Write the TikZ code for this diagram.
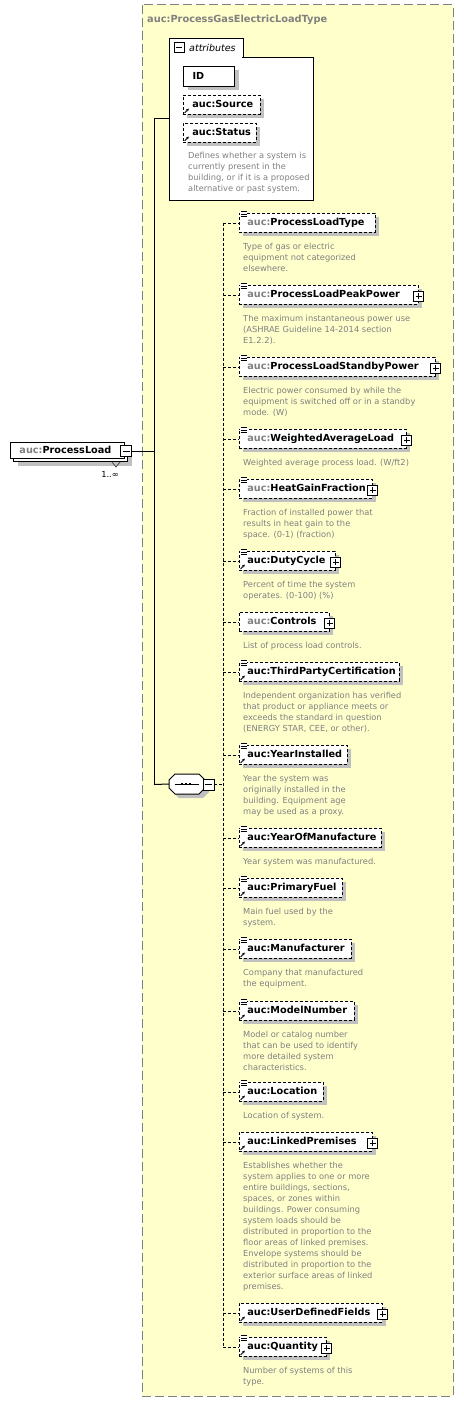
\documentclass[tikz,border=0pt]{standalone}
\usepackage{fontspec}
\setmainfont{DejaVu Sans}
\usetikzlibrary{calc,shadows,arrows.meta}
\definecolor{bgy}{RGB}{255,255,204}
\definecolor{shd}{RGB}{192,192,192}
\definecolor{txg}{RGB}{128,128,128}
\definecolor{brd}{RGB}{128,128,128}
\tikzset{
  shadowed/.style={drop shadow={shadow xshift=4pt,shadow yshift=-4pt,fill=shd,opacity=1}},
  ebox/.style={draw, dash pattern=on 3pt off 2pt, line width=0.8pt, fill=white, anchor=north west,
    minimum height=19pt, inner xsep=8pt, inner ysep=0pt, align=left,
    font=\fontsize{9.7}{12}\selectfont\bfseries, text height=7.3pt, text depth=2pt, shadowed},
  desc/.style={anchor=north west, inner sep=0pt, align=left, text=txg, font=\fontsize{8.3}{11}\selectfont},
  pmbox/.style={draw, fill=white, line width=0.9pt, minimum size=10pt, inner sep=0pt},
  conn/.style={dash pattern=on 3pt off 2pt, line width=0.8pt},
  solidline/.style={line width=1pt},
}
\newcommand\elem[5]{% id, top, textwidth, prefixcolor, name
  \node[ebox, text width=#3pt] (#1) at (239,#2) {\textcolor{#4}{auc:}#5};}
\newcommand\plusbox[1]{%
  \node[pmbox] (#1p) at ([yshift=-1.5pt]#1.east) {};
  \draw[line width=0.9pt] ([xshift=-3pt]#1p.center) -- ([xshift=3pt]#1p.center)
        ([yshift=-3pt]#1p.center) -- ([yshift=3pt]#1p.center);}
\newcommand\docicon[1]{%
  \fill[white] ($(#1.north west)+(1,-2.5)$) rectangle ($(#1.north west)+(8,4)$);
  \foreach \dy in {-1.2,1.1,3.4} {\draw[line width=0.8pt] ($(#1.north west)+(1.5,\dy)$) -- ++(6,0);}}
\newcommand\reficon[1]{%
  \draw[line width=0.9pt, -{Stealth[length=2.8pt,width=2.8pt]}] ($(#1.south west)+(1.6,-1.8)$) -- ++(4.2,-4.4);}
\newcommand\dstrut{\rule{0pt}{8pt}}
\newcommand\descr[2]{%
  \node[desc] (#1d) at ($(#1.south west)+(4,8)$) {\dstrut#2};}
\begin{document}
\begin{tikzpicture}[x=1pt,y=-1pt]
\useasboundingbox (0,0) rectangle (463,1402);
% outer type box
\draw[brd, dash pattern=on 9pt off 4pt, line width=1pt, fill=bgy] (142,5) rectangle (453,1396);
\node[anchor=base west, inner sep=0pt, font=\fontsize{9.8}{12}\selectfont\bfseries, text=txg] (title) at (147,23) {auc:ProcessGasElectricLoadType};
% attributes box
\node[draw, solidline, fill=white, anchor=north west, minimum width=144pt, minimum height=143pt] (attr) at (169,57) {};
\node[draw, solidline, fill=white, anchor=north west, minimum width=74pt, minimum height=19pt] (tab) at (169,38) {};
\draw[white, line width=1.4pt] (170,57) -- (242.4,57);
\node[pmbox] (tabm) at (179,47) {};
\draw[line width=0.9pt] ([xshift=-3pt]tabm.center) -- ([xshift=3pt]tabm.center);
\node[anchor=base west, inner sep=0pt, font=\fontsize{9.5}{11}\selectfont\itshape] (attrt) at (189,51.5) {attributes};
\node[draw, solidline, fill=white, anchor=north west, minimum height=20pt, inner xsep=9pt, inner ysep=0pt,
  text width=33pt, align=left, font=\fontsize{9.7}{12}\selectfont\bfseries, text height=7.3pt, text depth=2pt, shadowed] (id) at (183,66) {ID};
\node[ebox, inner xsep=9pt, text width=59pt] (src) at (183,95) {auc:Source};
\reficon{src}
\node[ebox, inner xsep=9pt, text width=55pt] (sts) at (183,123) {auc:Status};
\reficon{sts}
\node[desc] (stsd) at (188,150) {\dstrut Defines whether a system is\\currently present in the\\building, or if it is a proposed\\alternative or past system.};
% ProcessLoad element
\node[draw, solidline, fill=white, anchor=north west, minimum width=114pt, minimum height=16pt, shadowed] (plb) at (13,445) {};
\node[draw, solidline, fill=white, anchor=north west, minimum height=16pt, inner xsep=9pt, inner ysep=0pt,
  text width=96pt, align=left, font=\fontsize{9.7}{12}\selectfont\bfseries, text height=7.3pt, text depth=2pt] (pl) at (10,442) {\textcolor{txg}{auc:}ProcessLoad};
\draw[line width=0.8pt, black!70] (112,462) -- (116,467) -- (120,462);
\node[pmbox, minimum size=11pt] (plm) at (126,451) {};
\draw[line width=0.9pt] ([xshift=-3.5pt]plm.center) -- ([xshift=3.5pt]plm.center);
\node[inner sep=0pt, font=\fontsize{8.3}{10}\selectfont] (occ) at (110,474) {1..∞};
% main solid lines
\coordinate (mt) at (154,119);
\coordinate (mb) at (154,784.5);
\draw[solidline] (mt) -- (mb);
\draw[solidline] (mt) -- (mt -| attr.west);
\draw[solidline] (plm.east) -- (plm.east -| mt);
% sequence compositor
\node[minimum width=36pt, minimum height=20pt, inner sep=0pt] (seq) at (187,784) {};
\fill[shd] (173,778) -- (179,778) -- (203,778) -- (209,784) -- (209,792) -- (203,798) -- (179,798) -- (173,792) -- cycle;
\draw[solidline, fill=white] (169,780) -- (175,774) -- (199,774) -- (205,780) -- (205,788) -- (199,794) -- (175,794) -- (169,788) -- cycle;
\draw[line width=1pt] (175,784) -- (199,784);
\foreach \xx in {182,186,190} {\fill (\xx-1.2,782.8) rectangle (\xx+1.2,785.2);}
\draw[solidline] (mb) -- (seq.west);
\node[pmbox, minimum size=11pt] (sqm) at (208.5,784.5) {};
\draw[line width=0.9pt] ([xshift=-3.5pt]sqm.center) -- ([xshift=3.5pt]sqm.center);
\coordinate (vt) at (223,222.5);
\coordinate (vb) at (223,1346.5);
\draw[conn] (sqm.east) -- (sqm.east -| vt);
\draw[conn] (vt) -- (vb);
% child elements
\elem{e1}{213}{120}{txg}{ProcessLoadType}
\elem{e2}{285}{163}{txg}{ProcessLoadPeakPower}
\elem{e3}{357}{180}{txg}{ProcessLoadStandbyPower}
\elem{e4}{429}{151}{txg}{WeightedAverageLoad}
\elem{e5}{479}{117}{txg}{HeatGainFraction}
\elem{e6}{551}{80}{black}{DutyCycle}
\elem{e7}{612}{74}{txg}{Controls}
\elem{e8}{662}{144}{black}{ThirdPartyCertification}
\elem{e9}{745}{92}{black}{YearInstalled}
\elem{e10}{828}{126}{black}{YearOfManufacture}
\elem{e11}{878}{87}{black}{PrimaryFuel}
\elem{e12}{939}{96}{black}{Manufacturer}
\elem{e13}{1001}{99}{black}{ModelNumber}
\elem{e14}{1082}{68}{black}{Location}
\elem{e15}{1132}{117}{black}{LinkedPremises}
\elem{e16}{1303}{127}{black}{UserDefinedFields}
\elem{e17}{1337}{71}{black}{Quantity}
\foreach \e in {e1,e2,e3,e4,e5,e6,e7,e8,e9,e10,e11,e12,e13,e14,e15,e16,e17}
  {\draw[conn] (vt |- \e.west) -- (\e.west);}
\foreach \e in {e2,e3,e4,e5,e6,e7,e15,e16,e17} {\plusbox{\e}}
\foreach \e in {e1,e2,e3,e4,e5,e6,e8,e9,e10,e11,e12,e13,e14,e17} {\docicon{\e}}
\foreach \e in {e6,e8,e9,e10,e11,e12,e13,e14,e15,e16,e17} {\reficon{\e}}
\descr{e1}{Type of gas or electric\\equipment not categorized\\elsewhere.}
\descr{e2}{The maximum instantaneous power use\\(ASHRAE Guideline 14-2014 section\\E1.2.2).}
\descr{e3}{Electric power consumed by while the\\equipment is switched off or in a standby\\mode. (W)}
\descr{e4}{Weighted average process load. (W/ft2)}
\descr{e5}{Fraction of installed power that\\results in heat gain to the\\space. (0-1) (fraction)}
\descr{e6}{Percent of time the system\\operates. (0-100) (\%)}
\descr{e7}{List of process load controls.}
\descr{e8}{Independent organization has verified\\that product or appliance meets or\\exceeds the standard in question\\(ENERGY STAR, CEE, or other).}
\descr{e9}{Year the system was\\originally installed in the\\building. Equipment age\\may be used as a proxy.}
\descr{e10}{Year system was manufactured.}
\descr{e11}{Main fuel used by the\\system.}
\descr{e12}{Company that manufactured\\the equipment.}
\descr{e13}{Model or catalog number\\that can be used to identify\\more detailed system\\characteristics.}
\descr{e14}{Location of system.}
\descr{e15}{Establishes whether the\\system applies to one or more\\entire buildings, sections,\\spaces, or zones within\\buildings. Power consuming\\system loads should be\\distributed in proportion to the\\floor areas of linked premises.\\Envelope systems should be\\distributed in proportion to the\\exterior surface areas of linked\\premises.}
\descr{e17}{Number of systems of this\\type.}
\end{tikzpicture}
\end{document}
